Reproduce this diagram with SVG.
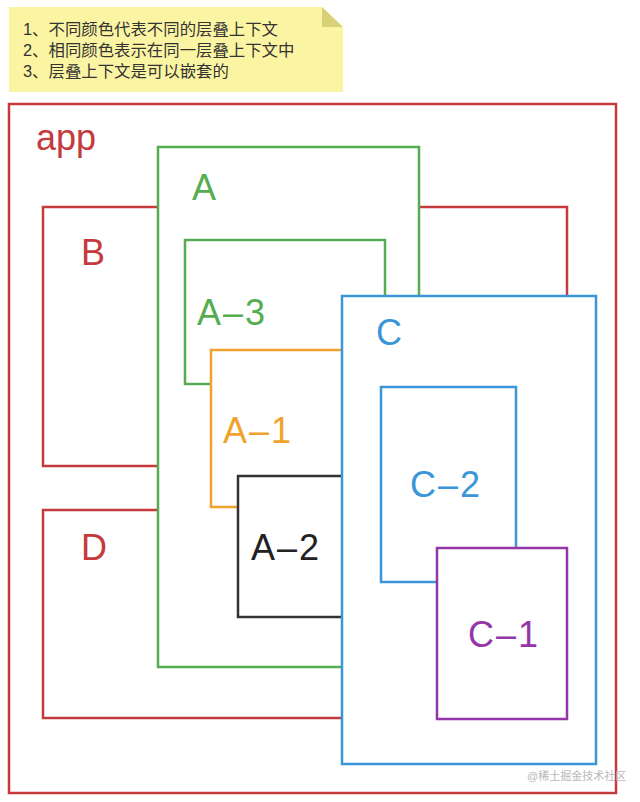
<svg xmlns="http://www.w3.org/2000/svg" width="640" height="802" viewBox="0 0 640 802">
<style>
.b{fill:#fff;stroke-width:2.5}
.lbl{font-family:"Liberation Sans","Noto Sans",sans-serif;font-size:36px}
.ds{letter-spacing:2px}
.note{font-family:"Liberation Sans","Noto Sans CJK SC",sans-serif;font-size:16.4px;fill:#333}
.red{stroke:#c43a3d}.redt{fill:#c43a3d}
.grn{stroke:#55ad51}.grnt{fill:#55ad51}
.org{stroke:#f0a32c}.orgt{fill:#f0a32c}
.blk{stroke:#333}.blkt{fill:#222}
.blu{stroke:#3a96d8}.blut{fill:#3a96d8}
.pur{stroke:#9536a8}.purt{fill:#9536a8}
</style>
<rect width="640" height="802" fill="#fff"/>
<g id="note">
<polygon points="9,7 322,7 343,27 343,92 9,92" fill="#fbf5a3"/>
<polygon points="322,7 343,27 322,27" fill="#d9d17a"/>
<text class="note" x="23" y="35">1、不同颜色代表不同的层叠上下文</text>
<text class="note" x="23" y="56">2、相同颜色表示在同一层叠上下文中</text>
<text class="note" x="23" y="77">3、层叠上下文是可以嵌套的</text>
</g>
<g id="app"><rect class="b red" x="9" y="104" width="607" height="689"/><text class="lbl redt" x="36" y="150">app</text></g>
<g id="B"><rect class="b red" x="43" y="207" width="524" height="259"/><text class="lbl redt" x="81" y="265">B</text></g>
<g id="D"><rect class="b red" x="43" y="510" width="524" height="208"/><text class="lbl redt" x="81" y="560">D</text></g>
<g id="A"><rect class="b grn" x="158" y="147" width="261" height="520"/><text class="lbl grnt" x="192" y="200">A</text></g>
<g id="A-3"><rect class="b grn" x="185" y="240" width="200" height="144"/><text class="lbl grnt ds" x="197" y="325">A–3</text></g>
<g id="A-1"><rect class="b org" x="211" y="350" width="180" height="157"/><text class="lbl orgt ds" x="223" y="443">A–1</text></g>
<g id="A-2"><rect class="b blk" x="238" y="476" width="150" height="141"/><text class="lbl blkt ds" x="251" y="560">A–2</text></g>
<g id="C"><rect class="b blu" x="342" y="296" width="254" height="468"/><text class="lbl blut" x="376" y="345">C</text></g>
<g id="C-2"><rect class="b blu" x="381" y="387" width="135" height="195"/><text class="lbl blut ds" x="410" y="497">C–2</text></g>
<g id="C-1"><rect class="b pur" x="437" y="548" width="130" height="171"/><text class="lbl purt ds" x="468" y="647">C–1</text></g>
<g id="connectors"></g>
<text x="527" y="780" font-family="'Liberation Sans','Noto Sans CJK SC',sans-serif" font-size="11" fill="#b8b8b8">@稀土掘金技术社区</text>
</svg>
